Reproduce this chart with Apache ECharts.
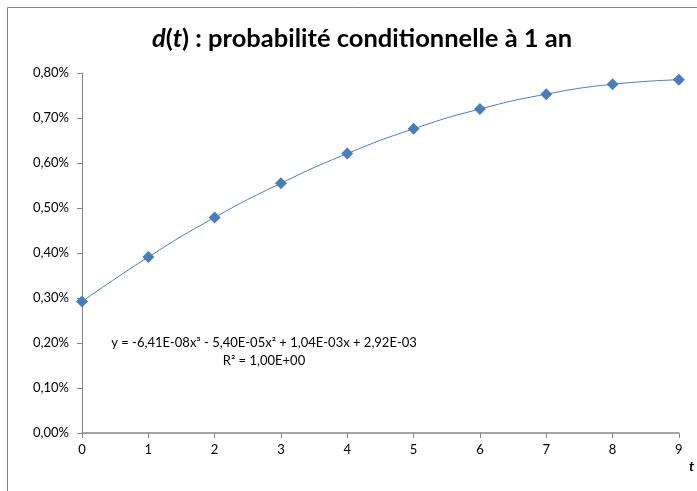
<!DOCTYPE html>
<html>
<head>
<meta charset="utf-8">
<script src="https://cdn.jsdelivr.net/npm/echarts@6/dist/echarts.min.js"></script>
<style>
  html, body { margin: 0; padding: 0; background: #fff; }
  #chart { width: 697px; height: 491px; }
</style>
</head>
<body>
<div id="chart"></div>
<script>
// t values (years) and d(t)
var years = [0, 1, 2, 3, 4, 5, 6, 7, 8, 9];
var dValues = [0.00292, 0.00391, 0.00479, 0.00555, 0.00621, 0.00676, 0.00720, 0.00753, 0.00775, 0.00785];
var yTicks = [0, 0.001, 0.002, 0.003, 0.004, 0.005, 0.006, 0.007, 0.008];
var trendText = 'y = -6,41E-08x³ - 5,40E-05x² + 1,04E-03x + 2,92E-03';
var r2Text = 'R² = 1,00E+00';

var font = 'Lato, "Open Sans", sans-serif';
var axisGrey = '#868686';

var pts = [];
for (var i = 0; i < years.length; i++) pts.push([years[i], dValues[i]]);

var chart = echarts.init(document.getElementById('chart'));
var option = {
  animation: false,
  title: {
    text: '{i|d}{n|(}{i|t}{n|) : probabilité conditionnelle à 1 an}',
    left: 147,
    top: 21,
    textStyle: {
      rich: {
        i: { fontFamily: font, fontSize: 25.5, fontWeight: 'bold', fontStyle: 'italic', color: '#000' },
        n: { fontFamily: font, fontSize: 25.5, fontWeight: 'bold', color: '#000' }
      }
    }
  },
  grid: { left: 82, right: 17, top: 73, bottom: 58 },
  xAxis: {
    type: 'value',
    min: 0,
    max: 9,
    interval: 1,
    name: 't',
    nameLocation: 'end',
    nameGap: 10,
    nameTextStyle: { fontFamily: font, fontSize: 14, fontWeight: 'bold', fontStyle: 'italic', color: '#000', verticalAlign: 'top', padding: [26, 0, 0, 0] },
    axisLine: { lineStyle: { color: axisGrey, width: 1.5 } },
    axisTick: { show: true, length: 5, lineStyle: { color: axisGrey } },
    axisLabel: { fontFamily: font, fontSize: 13, color: '#000', margin: 10 },
    splitLine: { show: false }
  },
  yAxis: {
    type: 'value',
    min: 0,
    max: 0.008,
    interval: 0.001,
    axisLine: { show: true, lineStyle: { color: axisGrey, width: 1 } },
    axisTick: { show: true, length: 5, lineStyle: { color: axisGrey } },
    axisLabel: {
      fontFamily: font, fontSize: 13, color: '#000', margin: 13,
      formatter: function (v) { return (v * 100).toFixed(2).replace('.', ',') + '%'; }
    },
    splitLine: { show: false }
  },
  series: [{
    type: 'line',
    data: pts,
    smooth: true,
    symbol: 'diamond',
    symbolSize: 12,
    itemStyle: { color: '#4a7ebb' },
    lineStyle: { color: '#4a7ebb', width: 1 }
  }],
  graphic: [
    {
      type: 'rect',
      shape: { x: 7.5, y: 7.5, width: 800, height: 600 },
      style: { fill: 'none', stroke: axisGrey, lineWidth: 1 },
      silent: true
    },
    {
      type: 'text',
      x: 264, y: 343,
      style: { text: trendText, fontFamily: font, fontSize: 13, fill: '#000', align: 'center', verticalAlign: 'middle' }
    },
    {
      type: 'text',
      x: 264, y: 361,
      style: { text: r2Text, fontFamily: font, fontSize: 13, fill: '#000', align: 'center', verticalAlign: 'middle' }
    }
  ]
};
chart.setOption(option);
</script>
</body>
</html>
